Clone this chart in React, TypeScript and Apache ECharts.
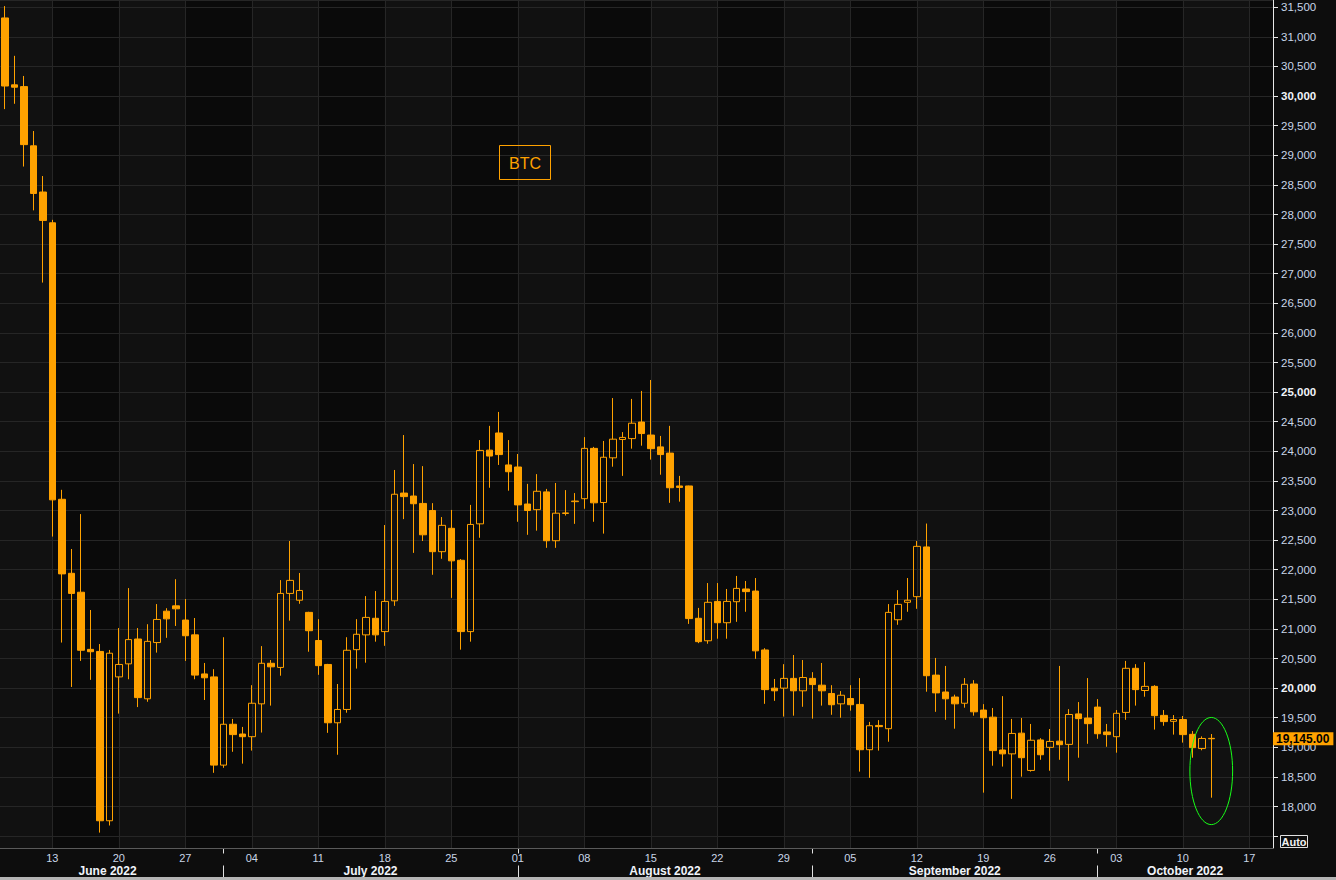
import React, { useEffect, useRef } from 'react';
import * as echarts from 'echarts';

// ---------- data ----------
const START_DATE = '2022-06-08';
const EXTRA_DAYS = 6; // empty future days to the right of the last candle

const opens = [
  31320, 30190, 30160, 29160, 28380, 27860, 23190, 21940, 21620, 20655,
  20620, 17760, 20190, 20410, 20830, 19820, 20770, 21300, 21390, 21150,
  20900, 20240, 20190, 18700, 19390, 19225, 19180, 19735, 20420, 20350,
  21600, 21485, 21280, 20805, 20400, 19415, 19640, 20650, 20900, 21180,
  20955, 21475, 23295, 23245, 23120, 23000, 22305, 22700, 22160, 20955,
  22775, 24020, 24310, 23770, 23735, 23110, 23015, 23315, 22490, 22950,
  23150, 23200, 24050, 23135, 23890, 24200, 24215, 24495, 24275, 24075,
  23970, 23415, 23415, 21180, 20800, 21465, 21105, 21460, 21675, 21640,
  20645, 20000, 20000, 20165, 19955, 20165, 20050, 19910, 19735, 19825,
  19725, 18960, 19370, 19315, 21155, 21450, 21545, 22385, 20220, 19935,
  19850, 19745, 20070, 19630, 19510, 18955, 18890, 19240, 18610, 19125,
  19000, 19105, 19050, 19565, 19495, 19680, 19260, 19180, 19590, 20335,
  19960, 20030, 19540, 19440, 19470, 19220, 18980, 19152,
];
const highs = [
  31520, 30680, 30340, 29410, 28650, 27910, 23350, 22350, 22940, 21320,
  20745, 20645, 21015, 21690, 21015, 21080, 21420, 21350, 21840, 21505,
  21185, 20425, 20320, 20860, 19480, 19345, 20050, 20710, 20475, 21825,
  22485, 21945, 21290, 21165, 20410, 20070, 20860, 21165, 21555, 21640,
  22755, 23685, 24275, 23785, 23750, 23125, 22890, 23010, 22180, 23095,
  24190, 24430, 24665, 24190, 23955, 23450, 23615, 23365, 23465, 23345,
  23295, 24240, 24075, 24175, 24900, 24325, 24885, 25020, 25205, 24260,
  24430, 23585, 23420, 21355, 21775, 21775, 21675, 21895, 21810, 21860,
  20675, 20155, 20405, 20560, 20475, 20270, 20425, 20050, 19950, 20050,
  20170, 19430, 19460, 21420, 21655, 21860, 22485, 22780, 20510, 20375,
  19890, 20170, 20135, 19730, 19665, 19865, 19480, 19495, 19395, 19155,
  19310, 20375, 19645, 19765, 20170, 19815, 19395, 19630, 20460, 20405,
  20440, 20050, 19630, 19545, 19530, 19275, 19185, 19225,
];
const lows = [
  29780, 29870, 28810, 28070, 26850, 22560, 20770, 20020, 20460, 20140,
  17560, 17680, 19570, 20150, 19680, 19770, 20600, 20850, 21050, 20460,
  20150, 19800, 18570, 18655, 18925, 18725, 18945, 19250, 19705, 20210,
  21140, 21425, 20615, 20225, 19245, 18875, 19585, 20330, 20430, 20785,
  20715, 21390, 22855, 22285, 22485, 21915, 22185, 21525, 20650, 20785,
  22540, 23385, 23770, 23335, 22810, 22590, 22660, 22370, 22370, 22915,
  22775, 23030, 22810, 22610, 23740, 23585, 24045, 24095, 23860, 23605,
  23130, 23150, 21085, 20760, 20750, 20835, 20835, 21120, 21290, 20495,
  19735, 19785, 19520, 19535, 19685, 19485, 19705, 19550, 19500, 19620,
  18590, 18485, 18945, 19095, 21070, 21290, 21340, 19940, 19600, 19465,
  19315, 19670, 19535, 18235, 18690, 18675, 18130, 18505, 18590, 18790,
  18605, 18790, 18435, 18825, 19060, 19145, 19010, 18910, 19465, 19705,
  19855, 19300, 19365, 19215, 19080, 18825, 18950, 18150,
];
const closes = [
  30170, 30150, 29180, 28355, 27900, 23180, 21930, 21600, 20640, 20615,
  17760, 20590, 20400, 20820, 19840, 20790, 21160, 21170, 21340, 20885,
  20220, 20175, 18700, 19390, 19215, 19180, 19745, 20420, 20360, 21600,
  21820, 21650, 20970, 20380, 19415, 19640, 20640, 20910, 21195, 20900,
  21465, 23275, 23235, 23115, 22590, 22305, 22750, 22150, 20955, 22765,
  24015, 23920, 23945, 23655, 23095, 23000, 23325, 22490, 22955, 22960,
  23160, 24050, 23130, 23900, 24205, 24235, 24475, 24300, 24045, 23945,
  23385, 23390, 21175, 20785, 21450, 21105, 21465, 21685, 21630, 20630,
  19975, 19955, 20165, 19955, 20180, 20060, 19955, 19720, 19880, 19720,
  18960, 19365, 19350, 21280, 21415, 21485, 22395, 20210, 19920, 19820,
  19735, 20065, 19600, 19500, 18945, 18890, 19235, 18825, 19120, 18875,
  19100, 19045, 19555, 19485, 19400, 19230, 19215, 19575, 20335, 19975,
  20030, 19535, 19435, 19470, 19215, 18995, 19150, 19145,
];

const Y_MIN = 17300;
const Y_MAX = 31623;
const Y_STEP = 500;
const Y_LABEL_FLOOR = 18000;
const Y_BOLD_STEP = 5000;

const TICKER = 'BTC';
const MONTH_NAMES = ['January', 'February', 'March', 'April', 'May', 'June', 'July', 'August', 'September', 'October', 'November', 'December'];

// highlighted area (green ellipse) around the latest candles
const HIGHLIGHT_DATE = '2022-10-13';
const HIGHLIGHT_PRICE = 18600;
const HIGHLIGHT_HALF_DAYS = 2.25;
const HIGHLIGHT_HALF_PRICE = 905;

// ---------- styles ----------
const ORANGE = '#ffa200';
const PAGE_BG = '#0d0d0d';
const PLOT_LIGHT = '#111111';
const PLOT_DARK = '#0a0a0a';
const GRID_LINE = '#262626';
const LABEL = '#c9d6e8';
const LABEL_BRIGHT = '#f0f4fa';
const FONT = '"Liberation Sans", Arial, sans-serif';

function buildDates(start: string, n: number): string[] {
  const t0 = new Date(start + 'T00:00:00Z').getTime();
  return Array.from({ length: n }, (_, i) => new Date(t0 + i * 86400000).toISOString().slice(0, 10));
}
const dayOfWeek = (s: string) => new Date(s + 'T00:00:00Z').getUTCDay();

const categories = buildDates(START_DATE, opens.length + EXTRA_DAYS);
const mondayIdx = categories.map((d, i) => (dayOfWeek(d) === 1 ? i : -1)).filter((i) => i >= 0);
const darkWeekIdx = mondayIdx.filter((_, k) => k % 2 === 0);
const candleData = opens.map((o, i) => [o, closes[i], lows[i], highs[i]]);
const lastClose = closes[closes.length - 1];

function buildOption(): any {
  const nCat = categories.length;
  return {
    animation: false,
    backgroundColor: PAGE_BG,
    grid: { left: -1, right: 63, top: 0, bottom: 32, containLabel: false, show: false },
    xAxis: {
      type: 'category',
      data: categories,
      boundaryGap: true,
      axisLine: { show: true, lineStyle: { color: '#5a5a5a', width: 1 } },
      axisTick: { show: false },
      splitLine: { show: false },
      axisLabel: {
        interval: (_i: number, v: string) => dayOfWeek(v) === 1,
        formatter: (v: string) => v.slice(8, 10),
        color: LABEL,
        fontSize: 11,
        fontFamily: FONT,
        margin: 4,
      },
    },
    yAxis: {
      type: 'value',
      position: 'right',
      min: Y_MIN,
      max: Y_MAX,
      minInterval: Y_STEP,
      maxInterval: Y_STEP,
      axisLine: { show: true, lineStyle: { color: '#e8e8e8', width: 1 } },
      axisTick: { show: true, length: 5, lineStyle: { color: '#e8e8e8' } },
      splitLine: { show: true, lineStyle: { color: GRID_LINE, width: 1 } },
      axisLabel: {
        margin: 8,
        showMinLabel: false,
        showMaxLabel: false,
        formatter: (v: number) => {
          if (v < Y_LABEL_FLOOR || v % Y_STEP !== 0) return '';
          const s = v.toLocaleString('en-US');
          return v % Y_BOLD_STEP === 0 ? `{b|${s}}` : `{n|${s}}`;
        },
        rich: {
          n: { color: LABEL, fontSize: 11.5, fontFamily: FONT },
          b: { color: LABEL_BRIGHT, fontSize: 11.5, fontFamily: FONT, fontWeight: 'bold' },
        },
      },
    },
    series: [
      {
        type: 'custom',
        name: 'plotBg',
        z: -3,
        silent: true,
        encode: { x: 0, y: 1 },
        data: [[0, Y_MAX]],
        renderItem: (params: any) => {
          const cs = params.coordSys;
          return { type: 'rect', shape: { x: cs.x, y: cs.y, width: cs.width, height: cs.height }, style: { fill: PLOT_LIGHT } };
        },
      },
      {
        type: 'custom',
        name: 'weekBands',
        z: -2,
        silent: true,
        encode: { x: 0, y: 1 },
        data: darkWeekIdx.map((i) => [i, Y_MAX]),
        renderItem: (params: any, api: any) => {
          const cs = params.coordSys;
          const bw = cs.width / nCat;
          const x0 = Math.max(cs.x, api.coord([api.value(0), Y_MAX])[0]);
          const x1 = Math.min(cs.x + cs.width, x0 + 7 * bw);
          return { type: 'rect', shape: { x: x0, y: cs.y, width: x1 - x0, height: cs.height }, style: { fill: PLOT_DARK } };
        },
      },
      {
        type: 'custom',
        name: 'weekLines',
        z: -1,
        silent: true,
        encode: { x: 0, y: 1 },
        data: mondayIdx.map((i) => [i, Y_MAX]),
        renderItem: (params: any, api: any) => {
          const cs = params.coordSys;
          const x = Math.round(api.coord([api.value(0), Y_MAX])[0]) + 0.5;
          return {
            type: 'line',
            shape: { x1: x, y1: cs.y, x2: x, y2: cs.y + cs.height },
            style: { stroke: GRID_LINE, lineWidth: 1 },
          };
        },
      },
      {
        type: 'candlestick',
        name: TICKER,
        data: candleData,
        barWidth: 7,
        itemStyle: {
          color: 'transparent',
          color0: ORANGE,
          borderColor: ORANGE,
          borderColor0: ORANGE,
          borderWidth: 1,
        },
        markLine: {
          silent: true,
          symbol: ['none', 'none'],
          lineStyle: { color: 'rgba(0,0,0,0)', width: 0, type: 'solid' },
          label: {
            show: true,
            position: 'end',
            distance: 0,
            formatter: () => lastClose.toLocaleString('en-US', { minimumFractionDigits: 2, maximumFractionDigits: 2 }),
            backgroundColor: ORANGE,
            color: '#000000',
            fontWeight: 'bold',
            fontSize: 12,
            fontFamily: FONT,
            padding: [1, 4, 0, 3],
          },
          data: [{ yAxis: lastClose }],
        },
      },
      {
        type: 'custom',
        name: 'highlight',
        z: 6,
        silent: true,
        encode: { x: 0, y: 1 },
        data: [[categories.indexOf(HIGHLIGHT_DATE), HIGHLIGHT_PRICE, HIGHLIGHT_HALF_DAYS, HIGHLIGHT_HALF_PRICE]],
        renderItem: (params: any, api: any) => {
          const cs = params.coordSys;
          const bw = cs.width / nCat;
          const c = api.coord([api.value(0), api.value(1)]);
          const top = api.coord([api.value(0), api.value(1) + api.value(3)]);
          return {
            type: 'ellipse',
            shape: { cx: c[0], cy: c[1], rx: api.value(2) * bw, ry: c[1] - top[1] },
            style: { fill: 'none', stroke: '#18ff18', lineWidth: 1 },
          };
        },
      },
    ],
  };
}

function buildGraphics(chart: any): any[] {
  const n = categories.length;
  const xOf = (i: number) => chart.convertToPixel({ xAxisIndex: 0 }, i) as number;
  const bw = xOf(1) - xOf(0);
  const gridLeft = xOf(0) - bw / 2;
  const gridRight = xOf(n - 1) + bw / 2;
  const axisY = Math.round(chart.convertToPixel({ yAxisIndex: 0 }, Y_MIN) as number) + 0.5;
  const els: any[] = [];

  // months
  const monthStarts: number[] = [];
  categories.forEach((d, i) => {
    if (i === 0 || d.slice(0, 7) !== categories[i - 1].slice(0, 7)) monthStarts.push(i);
  });
  monthStarts.forEach((s, k) => {
    const e = k + 1 < monthStarts.length ? monthStarts[k + 1] : n - 1;
    const left = s === 0 ? gridLeft : xOf(s);
    const right = k + 1 < monthStarts.length ? xOf(e) : gridRight;
    const d = categories[s];
    const label = `${MONTH_NAMES[parseInt(d.slice(5, 7), 10) - 1]} ${d.slice(0, 4)}`;
    els.push({
      type: 'text',
      silent: true,
      style: {
        text: label,
        x: (left + right) / 2 - (s === 0 ? 4 : 0),
        y: 871,
        textAlign: 'center',
        textVerticalAlign: 'middle',
        verticalAlign: 'middle',
        fill: LABEL_BRIGHT,
        fontSize: 12,
        fontWeight: 'bold',
        fontFamily: FONT,
      },
    });
    if (s > 0) {
      const bx = Math.round(xOf(s)) + 0.5;
      els.push({ type: 'line', silent: true, shape: { x1: bx, y1: axisY, x2: bx, y2: axisY + 5 }, style: { stroke: '#e0e0e0', lineWidth: 1 } });
      els.push({ type: 'line', silent: true, shape: { x1: bx, y1: axisY + 17, x2: bx, y2: 880 }, style: { stroke: '#e0e0e0', lineWidth: 1 } });
    }
  });

  // bright ends of the time axis line
  const lastMonday = mondayIdx[mondayIdx.length - 1];
  els.push({ type: 'line', silent: true, shape: { x1: 0, y1: axisY, x2: 10, y2: axisY }, style: { stroke: '#e8e8e8', lineWidth: 1 } });
  els.push({ type: 'line', silent: true, shape: { x1: xOf(lastMonday), y1: axisY, x2: gridRight, y2: axisY }, style: { stroke: '#e8e8e8', lineWidth: 1 } });

  // ticker box
  els.push({ type: 'rect', silent: true, shape: { x: 499.5, y: 145.5, width: 51, height: 34 }, style: { fill: 'none', stroke: ORANGE, lineWidth: 1 } });
  els.push({
    type: 'text',
    silent: true,
    style: { text: TICKER, x: 525, y: 163, textAlign: 'center', textVerticalAlign: 'middle', verticalAlign: 'middle', fill: ORANGE, fontSize: 16, fontFamily: FONT },
  });

  // "Auto" button
  els.push({ type: 'rect', silent: true, shape: { x: 1280.5, y: 835.5, width: 27, height: 12 }, style: { fill: PAGE_BG, stroke: '#e0e0e0', lineWidth: 1 } });
  els.push({
    type: 'text',
    silent: true,
    style: { text: 'Auto', x: 1294, y: 842, textAlign: 'center', textVerticalAlign: 'middle', verticalAlign: 'middle', fill: '#f0f0f0', fontSize: 11, fontWeight: 'bold', fontFamily: FONT },
  });

  // scrollbar strip
  els.push({ type: 'rect', silent: true, shape: { x: 0, y: 877, width: 1336, height: 3 }, style: { fill: '#b4b4b4' } });
  return els;
}

export default function App() {
  const ref = useRef<HTMLDivElement>(null);
  useEffect(() => {
    if (!ref.current) return;
    const chart = echarts.init(ref.current, null, { renderer: 'svg' });
    chart.setOption(buildOption());
    chart.setOption({ graphic: { elements: buildGraphics(chart) } });
    return () => chart.dispose();
  }, []);
  return (
    <div
      ref={ref}
      style={{ position: 'fixed', left: 0, top: 0, width: 1336, height: 880, background: PAGE_BG }}
    />
  );
}
